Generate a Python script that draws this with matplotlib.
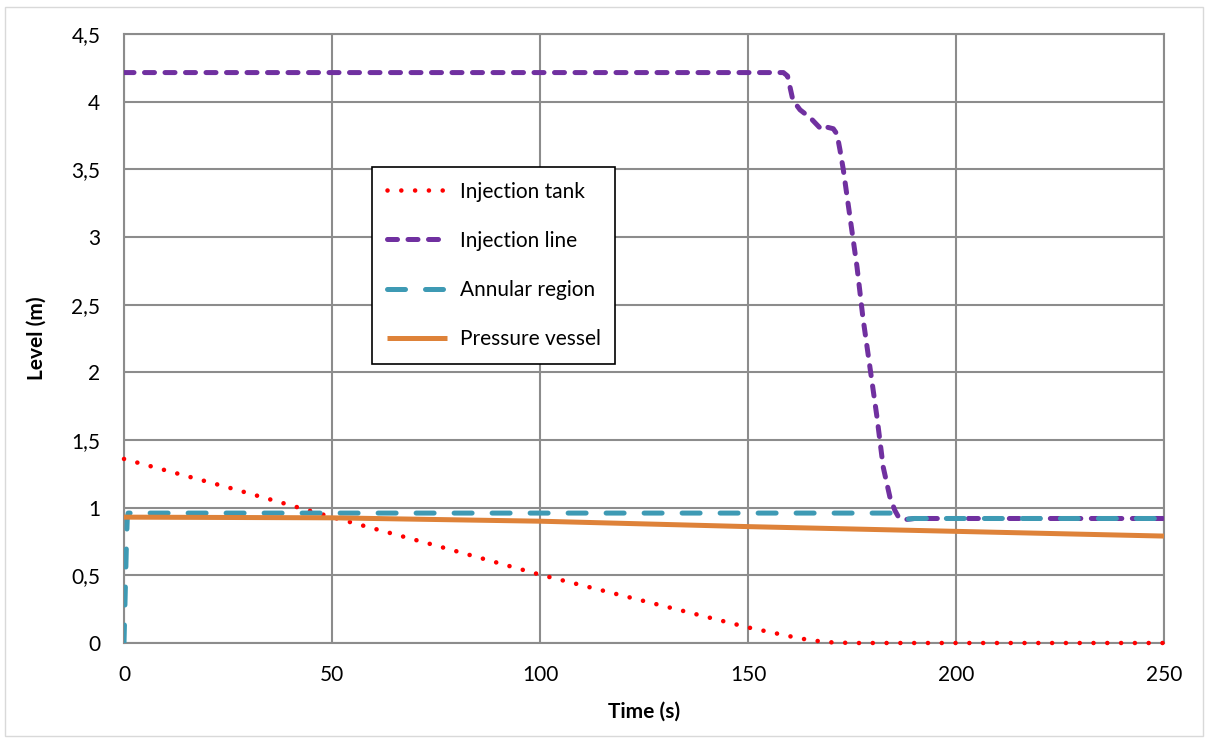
import matplotlib
matplotlib.use("Agg")
import matplotlib.pyplot as plt
from matplotlib.ticker import FuncFormatter
from matplotlib.patches import Rectangle

# ---- data ----
tank_t = [0, 25, 50, 75, 100, 125, 134, 150, 160, 165, 170, 175, 250]
tank_lvl = [1.36, 1.15, 0.93, 0.72, 0.505, 0.31, 0.24, 0.115, 0.05, 0.02, 0.005, 0.0, 0.0]

line_t = [0, 158.5, 159.5, 160.8, 162.5, 165, 167.8, 169.2, 170.5, 171.4, 172.1, 172.9, 174.5,
          176.2, 177.6, 179.3, 181, 182.5, 184.1, 185.3, 186.2, 187.3, 190, 250]
line_lvl = [4.215, 4.215, 4.19, 4.01, 3.94, 3.88, 3.79, 3.81, 3.80, 3.76, 3.645, 3.50, 3.15,
            2.78, 2.41, 2.04, 1.67, 1.30, 1.08, 0.98, 0.93, 0.91, 0.92, 0.92]

ann_t = [0, 0.2, 0.4, 0.6, 0.8, 1.0, 185, 186, 187, 188, 190, 250]
ann_lvl = [0.0, 0.25, 0.5, 0.75, 0.93, 0.96, 0.96, 0.955, 0.93, 0.915, 0.92, 0.92]

pv_t = [0, 50, 100, 150, 200, 250]
pv_lvl = [0.93, 0.925, 0.90, 0.86, 0.825, 0.79]

x_ticks = [0, 50, 100, 150, 200, 250]
y_ticks = [0, 0.5, 1, 1.5, 2, 2.5, 3, 3.5, 4, 4.5]

labels = ["Injection tank", "Injection line", "Annular region", "Pressure vessel"]
colors = ["#FF0000", "#7030A0", "#3E9AB4", "#DE8239"]

plt.rcParams['font.family'] = ['Lato', 'DejaVu Sans']
FS = 15

W, H = 1208, 738
fig = plt.figure(figsize=(W / 100, H / 100), dpi=100)
fig.subplots_adjust(left=124 / W, right=1164 / W, top=1 - 34 / H, bottom=1 - 643 / H)
ax = fig.add_subplot(111)

# outer chart border
fig.patches.append(Rectangle((5 / W, 2 / H), 1 - 10 / W, 1 - 9 / H, transform=fig.transFigure,
                             fill=False, edgecolor="#D9D9D9", linewidth=1.0))

l1, = ax.plot(tank_t, tank_lvl, color=colors[0], linewidth=3.3, linestyle=(0, (0.01, 3.0)),
              dash_capstyle='round', label=labels[0], clip_on=False, zorder=5)
l2, = ax.plot(line_t, line_lvl, color=colors[1], linewidth=3.6, linestyle=(0, (2.0, 2.1)),
              dash_capstyle='round', dash_joinstyle='round', label=labels[1], zorder=6)
l3, = ax.plot(ann_t, ann_lvl, color=colors[2], linewidth=3.6, linestyle=(0, (3.6, 4.0)),
              dash_capstyle='round', dash_joinstyle='round', label=labels[2], zorder=7)
l4, = ax.plot(pv_t, pv_lvl, color=colors[3], linewidth=3.6, solid_capstyle='butt',
              label=labels[3], zorder=8)

ax.set_xlim(0, 250)
ax.set_ylim(0, 4.5)
ax.set_xticks(x_ticks)
ax.set_yticks(y_ticks)

def comma_fmt(v, pos):
    return ("%g" % v).replace('.', ',')

ax.yaxis.set_major_formatter(FuncFormatter(comma_fmt))
ax.xaxis.set_major_formatter(FuncFormatter(comma_fmt))
ax.tick_params(axis='both', length=0, labelsize=FS, colors='black')
ax.tick_params(axis='x', pad=16)
ax.tick_params(axis='y', pad=17)

ax.grid(True, color="#8C8C8C", linewidth=1.5)
ax.set_axisbelow(True)
for sp in ax.spines.values():
    sp.set_color("#8C8C8C")
    sp.set_linewidth(1.5)

ax.set_xlabel("Time (s)", fontsize=FS, fontweight='bold', labelpad=12)
ax.set_ylabel("Level (m)", fontsize=FS, fontweight='bold', labelpad=18)

leg = ax.legend(handles=[l1, l2, l3, l4], loc='upper left',
                bbox_to_anchor=((372 - 124) / 1040, (643 - 167) / 609),
                fontsize=FS, frameon=True, fancybox=False, framealpha=1,
                edgecolor='black', handlelength=2.9, handletextpad=0.6,
                labelspacing=1.4, borderpad=0.7, borderaxespad=0)
leg.get_frame().set_linewidth(1.2)
leg.set_zorder(10)

fig.savefig("out.png", dpi=100)
